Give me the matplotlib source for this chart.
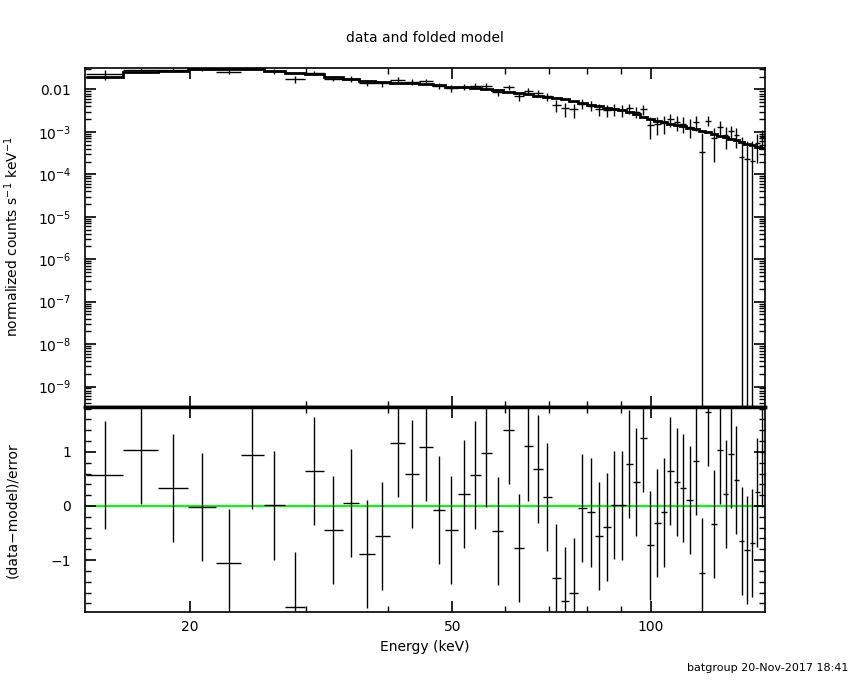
import numpy as np
import matplotlib
matplotlib.use('Agg')
import matplotlib.pyplot as plt
from matplotlib.ticker import FixedLocator, MultipleLocator, LogLocator, FuncFormatter, NullFormatter

# bin edges (keV)
edges = [13.9, 15.84, 17.87, 19.84, 21.88, 23.90, 25.87, 27.84, 29.88, 31.90,
         34.08, 36.05, 38.12, 40.21, 42.37, 44.44, 46.67, 48.67, 50.92, 53.16,
         55.18, 57.41, 59.66, 61.99, 64.13, 66.17, 68.52, 70.79, 72.97, 75.19,
         77.51, 79.90, 82.17, 84.49, 86.89, 89.13, 91.56, 93.83, 96.24, 98.52,
         101.06, 103.45, 105.86, 108.25, 110.66, 113.13, 115.68, 118.13, 120.76, 123.19,
         125.80, 128.46, 131.0, 133.4, 136.0, 138.5, 141.2, 143.7, 146.3, 148.9]

# folded model (counts/s/keV)
model = [0.0194, 0.0254, 0.0277, 0.0310, 0.0300, 0.0298, 0.0268, 0.0240, 0.0225, 0.0192,
         0.0177, 0.0162, 0.0151, 0.0145, 0.0139, 0.0131, 0.0125, 0.0117, 0.0113, 0.0109,
         0.0103, 0.0095, 0.0088, 0.0081, 0.0076, 0.0071, 0.0066, 0.0062, 0.0058, 0.0054,
         0.0047, 0.0043, 0.0040, 0.0037, 0.0034, 0.0032, 0.0029, 0.0026, 0.0023, 0.0020,
         0.0018, 0.0017, 0.00155, 0.00145, 0.00136, 0.00126, 0.00115, 0.00105, 0.00098, 0.00090,
         0.00082, 0.00076, 0.00069, 0.00064, 0.00058, 0.00053, 0.00049, 0.00045, 0.00042]

# error / model per bin
rel_err = [0.29, 0.12, 0.11, 0.11, 0.12, 0.11, 0.12, 0.14, 0.12, 0.13,
           0.14, 0.14, 0.15, 0.15, 0.15, 0.16, 0.16, 0.17, 0.17, 0.18,
           0.18, 0.19, 0.19, 0.20, 0.20, 0.21, 0.21, 0.22, 0.22, 0.23,
           0.25, 0.26, 0.27, 0.28, 0.30, 0.31, 0.33, 0.35, 0.38, 0.38,
           0.40, 0.42, 0.44, 0.46, 0.48, 0.50, 0.55, 0.55, 0.50, 0.58,
           0.60, 0.62, 0.50, 0.65, 0.85, 0.70, 0.85, 0.80, 0.80]

# (data-model)/error
resid = [0.57, 1.03, 0.33, -0.02, -1.06, 0.94, 0.01, -1.86, 0.65, -0.45,
         0.05, -0.89, -0.56, 1.17, 0.59, 1.09, -0.07, -0.45, 0.22, 0.57,
         0.98, -0.47, 1.40, -0.78, 1.10, 0.68, 0.16, -1.34, -1.75, -1.60,
         -0.04, -0.12, -0.56, -0.39, 0.02, 0.01, 0.77, 0.44, 1.25, -0.73,
         -0.32, -0.12, 0.64, 0.44, 0.33, 0.11, 0.83, -1.23, 1.74, -0.34,
         1.03, 0.22, 0.96, 0.48, -0.65, -0.82, -0.69, 0.25, 0.99]

edges = np.array(edges)
model = np.array(model)
resid = np.array(resid)
lo, hi = edges[:-1], edges[1:]
xc = 0.5 * (lo + hi)
err = model * np.array(rel_err)
rate = model + resid * err

ymin, ymax = 3.3e-10, 0.032
low = np.maximum(rate - err, ymin * 1e-3)

plt.rcParams['font.family'] = 'DejaVu Sans'
plt.rcParams['font.size'] = 10
plt.rcParams['mathtext.default'] = 'regular'

fig = plt.figure(figsize=(8.5, 6.8), dpi=100)
ax1 = fig.add_axes([0.1, 0.4015, 0.8, 0.4985])
ax2 = fig.add_axes([0.1, 0.1, 0.8, 0.3015], sharex=ax1)

ax1.errorbar(xc, rate, xerr=[xc - lo, hi - xc], yerr=[rate - low, err],
             fmt='none', ecolor='black', elinewidth=1, capsize=0)
ax1.stairs(model, edges, baseline=None, color='black', linewidth=2)
ax1.set_xscale('log')
ax1.set_yscale('log')
ax1.set_xlim(13.87, 148.9)
ax1.set_ylim(ymin, ymax)
ax1.yaxis.set_major_locator(LogLocator(base=10, numticks=20))
ax1.yaxis.set_minor_locator(LogLocator(base=10, subs=np.arange(2, 10), numticks=20))
ax1.yaxis.set_major_formatter(FuncFormatter(
    lambda v, p: '0.01' if abs(v - 0.01) < 1e-6 else r'$10^{%d}$' % round(np.log10(v))))
ax1.yaxis.set_minor_formatter(NullFormatter())

ax2.errorbar(xc, resid, xerr=[xc - lo, hi - xc], yerr=1,
             fmt='none', ecolor='black', elinewidth=1, capsize=0)
ax2.axhline(0, color='#00ff00', linewidth=1.5, zorder=0)
ax2.set_ylim(-1.96, 1.83)
ax2.yaxis.set_major_locator(FixedLocator([-1, 0, 1]))
ax2.yaxis.set_major_formatter(FuncFormatter(lambda v, p: '\u22121' if v < 0 else '%d' % v))
ax2.yaxis.set_minor_locator(MultipleLocator(0.2))

ax2.xaxis.set_major_locator(FixedLocator([20, 50, 100]))
ax2.xaxis.set_minor_locator(FixedLocator([30, 40, 60, 70, 80, 90]))
ax2.xaxis.set_major_formatter(FuncFormatter(lambda v, p: '%d' % v))
ax2.xaxis.set_minor_formatter(NullFormatter())

for ax in (ax1, ax2):
    ax.tick_params(which='both', direction='in', top=True, right=True, color='black')
    ax.tick_params(which='major', length=8, width=1.2)
    ax.tick_params(which='minor', length=4, width=1)
    ax.tick_params(axis='y', which='major', pad=10)
    ax.tick_params(axis='x', which='major', pad=6)
    for s in ax.spines.values():
        s.set_linewidth(1.2)
ax1.tick_params(labelbottom=False)
ax1.spines['bottom'].set_linewidth(2.5)
ax2.spines['top'].set_linewidth(2.5)

ax2.set_xlabel('Energy (keV)', labelpad=4)
fig.text(12 / 850, 1 - 237 / 680, 'normalized counts s$^{-1}$ keV$^{-1}$',
         rotation=90, ha='center', va='center')
fig.text(12 / 850, 1 - 510 / 680, '(data\u2212model)/error',
         rotation=90, ha='center', va='center')
fig.text(0.5, 1 - 38 / 680, 'data and folded model', ha='center', va='center')
fig.text(848 / 850, 1 - 668 / 680, 'batgroup 20-Nov-2017 18:41',
         ha='right', va='center', fontsize=8)

fig.savefig('out.png', dpi=100)
